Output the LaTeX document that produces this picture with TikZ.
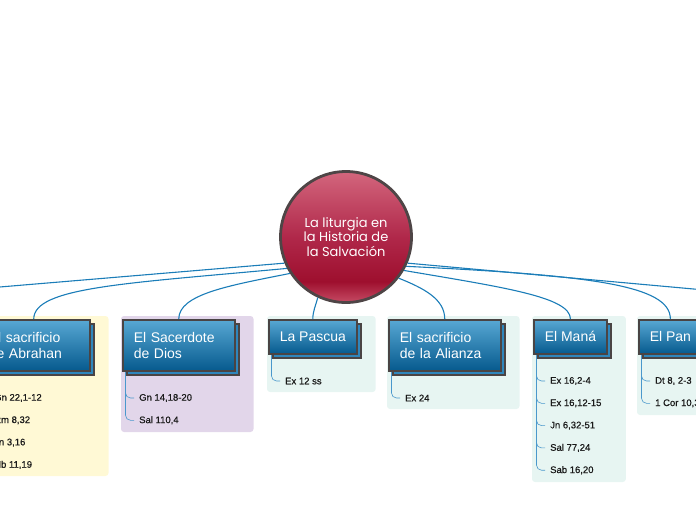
\documentclass[tikz,border=0pt]{standalone}
\usepackage{fontspec}
\setmainfont{Liberation Sans}
\newfontfamily\hubfont{Poppins}
\newfontfamily\leaffont[FakeBold=0.6]{Liberation Sans}
\usetikzlibrary{positioning,shadows,backgrounds,calc}
\definecolor{mmBranch}{HTML}{1B7DB8}
\definecolor{mmTwig}{HTML}{4A98CC}
\definecolor{mmEdge}{HTML}{4A4444}
\definecolor{mmBoxTop}{HTML}{58A8D4}
\definecolor{mmBoxBot}{HTML}{065A8E}
\definecolor{mmShadow}{HTML}{2F86BC}
\definecolor{mmLeaf}{HTML}{1A1A1A}
\definecolor{panelSun}{HTML}{FFF9D5}
\definecolor{panelLilac}{HTML}{E2D6EA}
\definecolor{panelMint}{HTML}{E7F5F2}
\definecolor{hubRim}{HTML}{4E4546}
\definecolor{hubTop}{HTML}{D3667D}
\definecolor{hubMid}{HTML}{B0284A}
\definecolor{hubDeep}{HTML}{9E0F2E}
\definecolor{hubLow}{HTML}{C64B64}
\pgfdeclareverticalshading{hubshade}{100bp}{color(0bp)=(hubLow); color(25bp)=(hubLow); color(33bp)=(hubDeep); color(50bp)=(hubMid); color(75bp)=(hubTop); color(100bp)=(hubTop)}

\tikzset{
  hub/.style={circle,minimum size=131pt,inner sep=0pt,draw=hubRim,line width=2.8pt,shade,shading=hubshade,
    text=white,align=center,font=\hubfont\fontsize{13}{14.5}\selectfont},
  topic/.style={anchor=north west,draw=mmEdge,line width=1.5pt,top color=mmBoxTop,bottom color=mmBoxBot,
    text=white,align=left,inner xsep=11pt,inner ysep=0pt,font=\fontsize{14}{16}\selectfont,
    general shadow={fill=mmShadow,draw=mmEdge,line width=1.5pt,shadow xshift=4pt,shadow yshift=-4pt}},
  oneline/.style={minimum height=34pt},
  twolines/.style={text width=90pt,minimum height=51pt},
  leaf/.style={anchor=west,inner xsep=5pt,inner ysep=1pt,text=mmLeaf,font=\leaffont\fontsize{9.5}{11}\selectfont},
  branch/.style={draw=mmBranch,line width=1.1pt},
  twig/.style={draw=mmTwig,line width=0.6pt,rounded corners=5pt},
  panel/.style={rounded corners=3pt}
}

\begin{document}
\begin{tikzpicture}[x=1pt,y=-1pt]
  \useasboundingbox (0,0) rectangle (696,520);
  % central topic
  \node[hub] (hub) at (346,237) {La liturgia en\\la Historia de\\la Salvación};
  % main topics, each on its panel with its references
  \foreach \id/\x/\tint/\kind/\ybot/\lab/\leaves in {
    abraham/-23/panelSun/twolines/476/{El sacrificio\\de Abrahan}/{{Gn 22,1-12},{Rm 8,32},{Jn 3,16},{Hb 11,19}},
    sacerdote/122/panelLilac/twolines/432/{El Sacerdote\\de Dios}/{{Gn 14,18-20},{Sal 110,4}},
    pascua/268/panelMint/oneline/392/{La Pascua}/{{Ex 12 ss}},
    alianza/388/panelMint/twolines/409/{El sacrificio\\de la Alianza}/{{Ex 24}},
    mana/533/panelMint/oneline/482/{El Maná}/{{Ex 16,2-4},{Ex 16,12-15},{Jn 6,32-51},{Sal 77,24},{Sab 16,20}},
    pan/638/panelMint/oneline/415/{El Pan}/{{Dt 8, 2-3},{1 Cor 10,3}}}{
    \node[topic,\kind] (\id) at (\x,319) {\lab};
    \coordinate (\id-base) at (\x,\ybot);
    \begin{scope}[on background layer]
      \fill[fill=\tint,panel] ([shift={(-1pt,3pt)}]\id.north west) rectangle ($(\id.east |- \id-base)+(18,0)$);
    \end{scope}
    \foreach \passage [count=\k] in \leaves {
      \node[leaf] (\id-\k) at ([xshift=12pt,yshift={-26.5pt-22.3pt*(\k-1)}]\id.south west) {\passage};
      \begin{scope}[on background layer]
        \draw[twig] ([xshift=3.5pt]\id.south west) |- (\id-\k.west);
      \end{scope}
    }
  }
  % branches from the hub (two run off the page)
  \coordinate (sweepW) at (-60,292);
  \coordinate (sweepE) at (760,295);
  \draw[branch] (hub.203) -- (sweepW);
  \draw[branch] (hub.-23) -- (sweepE);
  \foreach \a/\t/\px/\py/\qy in {208/abraham/-160/15/-32, 213/sacerdote/-60/12/-25, 245/pascua/-2/8/-8,
      -38/alianza/25/10/-20, -30/mana/100/17/-22, -26/pan/184/9/-34}
    \draw[branch] (hub.\a) .. controls +(\px,\py) and +(0,\qy) .. (\t.north);
\end{tikzpicture}
\end{document}
